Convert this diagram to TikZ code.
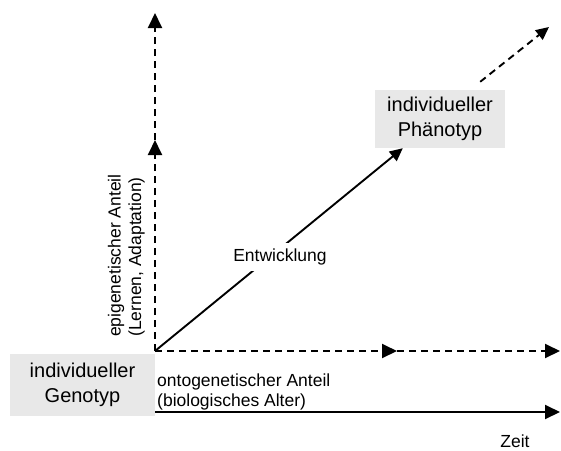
\documentclass[tikz,border=0pt]{standalone}
\usepackage{fontspec}
\setmainfont{Liberation Sans}
\usetikzlibrary{arrows.meta,positioning,calc}
\definecolor{boxgray}{RGB}{232,232,232}

\begin{document}
\begin{tikzpicture}[x=1pt, y=-1pt,
    box/.style={rectangle, fill=boxgray, inner sep=0pt, align=center, font=\fontsize{20}{25.5}\selectfont},
    lbl/.style={inner sep=0pt, font=\fontsize{17.5}{20.5}\selectfont},
    axis/.style={line width=1.9pt, -{Triangle[length=15pt,width=14pt]}},
    dashaxis/.style={axis, dash pattern=on 7pt off 5pt}]
    \useasboundingbox (0,0) rectangle (561,450);
    % origin and axis points
    \coordinate (O) at (155,351);
    \coordinate (vmid) at (155,140);
    \coordinate (vtop) at (155,13);
    \coordinate (hmid) at (397,351);
    \coordinate (hend) at (560,351);
    \coordinate (t0) at (155,412);
    \coordinate (tend) at (560,412);
    \coordinate (outer) at (549,27);
    % boxes
    \node [box, minimum width=145pt, minimum height=62pt] (geno) at (82.5,385) {individueller\\Genotyp};
    \node [box, minimum width=130pt, minimum height=58pt] (pheno) at (440,119) {individueller\\Phänotyp};
    % axes
    \draw[dashaxis] (O) -- (vmid);
    \draw[dashaxis] (vmid) -- (vtop);
    \draw[dashaxis] (O) -- (hmid);
    \draw[dashaxis] (hmid) -- (hend);
    \draw[axis] (t0) -- (tend);
    \draw[axis, -{Triangle[length=13pt,width=12pt]}] (O) -- ($(pheno.south west)+(28,0)$);
    \draw[dashaxis, -{Triangle[length=13pt,width=12pt]}] ($(pheno.north east)+(-25,-8)$) -- (outer);
    % labels
    \node [lbl, fill=white, inner sep=6pt] (entw) at (280,257) {Entwicklung};
    \node [lbl, anchor=west, align=left] (onto) at (157,392) {ontogenetischer Anteil\\(biologisches Alter)};
    \node [lbl, rotate=90, anchor=south west, align=left] (epi) at (145,337) {epigenetischer Anteil\\(Lernen, Adaptation)};
    \node [lbl] (zeit) at (515,441) {Zeit};
\end{tikzpicture}
\end{document}
